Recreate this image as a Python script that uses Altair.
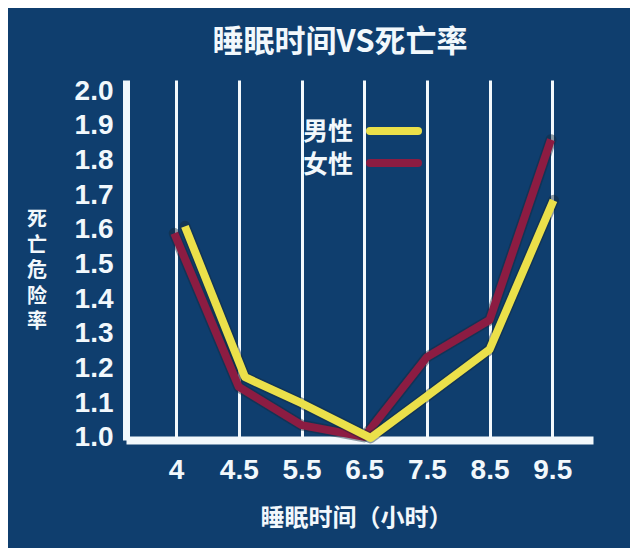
import json
import altair as alt
import pandas as pd

# ---- data ----
hours = ["4", "4.5", "5.5", "6.5", "7.5", "8.5", "9.5"]
male_pos = [0.14, 1.10, 2.0, 3.10, 4.0, 5.0, 6.02]
male_risk = [1.61, 1.175, 1.10, 1.00, 1.12, 1.255, 1.685]
female_pos = [-0.03, 1.0, 2.0, 3.0, 4.0, 5.0, 5.98]
female_risk = [1.59, 1.147, 1.037, 1.003, 1.233, 1.34, 1.86]
y_ticks = [1.0, 1.1, 1.2, 1.3, 1.4, 1.5, 1.6, 1.7, 1.8, 1.9, 2.0]
series_names = ["男性", "女性"]
y_title_chars = ["死", "亡", "危", "险", "率"]

BG = "#0f3e6e"
WHITE = "#f2f8fc"
YELLOW = "#ebe04a"
RED = "#8c1c42"
SHADOW = "#14283a"
CJK = "Noto Sans CJK SC"

male = pd.DataFrame({"pos": male_pos, "risk": male_risk, "series": series_names[0]})
female = pd.DataFrame({"pos": female_pos, "risk": female_risk, "series": series_names[1]})

label_expr = json.dumps(hours) + "[datum.value]"

x_enc = alt.X(
    "pos:Q",
    scale=alt.Scale(domain=[-0.8, 6.65], nice=False, zero=False),
    axis=alt.Axis(
        values=list(range(len(hours))),
        labelExpr=label_expr,
        grid=True,
        gridColor=WHITE,
        gridWidth=3,
        gridOpacity=1,
        domainColor=WHITE,
        domainWidth=8,
        ticks=False,
        labelFont="Liberation Sans",
        labelFontSize=28,
        labelFontWeight="bold",
        labelColor=WHITE,
        labelBaseline="top",
        labelPadding=16,
        title="睡眠时间（小时）",
        titleFont=CJK,
        titleFontSize=24,
        titleFontWeight="bold",
        titleColor=WHITE,
        titleX=230,
        titleY=78,
        titleAlign="center",
        titleBaseline="middle",
    ),
)
y_enc = alt.Y(
    "risk:Q",
    scale=alt.Scale(domain=[0.994, 2.032], nice=False, zero=False),
    axis=alt.Axis(
        values=y_ticks,
        format=".1f",
        grid=False,
        domainColor=WHITE,
        domainWidth=7,
        ticks=False,
        labelFont="Liberation Sans",
        labelFontSize=28,
        labelFontWeight="bold",
        labelColor=WHITE,
        labelPadding=13,
        title=None,
    ),
)

def series_layers(df, color):
    base = alt.Chart(df)
    shadow = base.mark_line(color=SHADOW, strokeWidth=11, opacity=0.45,
                            strokeJoin="round", strokeCap="round").encode(x=x_enc, y=y_enc)
    line = base.mark_line(color=color, strokeWidth=8,
                          strokeJoin="round", strokeCap="butt").encode(x=x_enc, y=y_enc)
    return [shadow, line]

layers = series_layers(female, RED) + series_layers(male, YELLOW)

title = alt.Chart(pd.DataFrame({"t": ["睡眠时间VS死亡率"]})).mark_text(
    font=CJK, fontSize=31, fontWeight="bold", color=WHITE, align="center", baseline="middle"
).encode(text="t:N", x=alt.value(214), y=alt.value(-37))

# vertical (stacked) y-axis title
ytitle_layers = []
for i, ch in enumerate(y_title_chars):
    ytitle_layers.append(
        alt.Chart(pd.DataFrame({"t": [ch]})).mark_text(
            font=CJK, fontSize=20, fontWeight="bold", color=WHITE, align="center", baseline="middle"
        ).encode(text="t:N", x=alt.value(-89), y=alt.value(140 + i * 25.5))
    )

legend_layers = []
for name, color, ty, ly in [(series_names[0], YELLOW, 52, 51), (series_names[1], RED, 85, 83)]:
    legend_layers.append(
        alt.Chart(pd.DataFrame({"t": [name]})).mark_text(
            font=CJK, fontSize=25, fontWeight="bold", color=WHITE, align="left", baseline="middle"
        ).encode(text="t:N", x=alt.value(177), y=alt.value(ty))
    )
    legend_layers.append(
        alt.Chart(pd.DataFrame({"t": [name]})).mark_rule(
            color=color, strokeWidth=8, strokeCap="round"
        ).encode(x=alt.value(244), x2=alt.value(292), y=alt.value(ly))
    )

chart = alt.layer(*layers, title, *ytitle_layers, *legend_layers).properties(
    width=467,
    height=360,
    autosize=alt.AutoSizeParams(type="none"),
    padding={"left": 118, "top": 72, "right": 37, "bottom": 108},
    background=BG,
).configure_view(stroke=None)

chart.save("out.html", embed_options={"renderer": "svg", "actions": False})
